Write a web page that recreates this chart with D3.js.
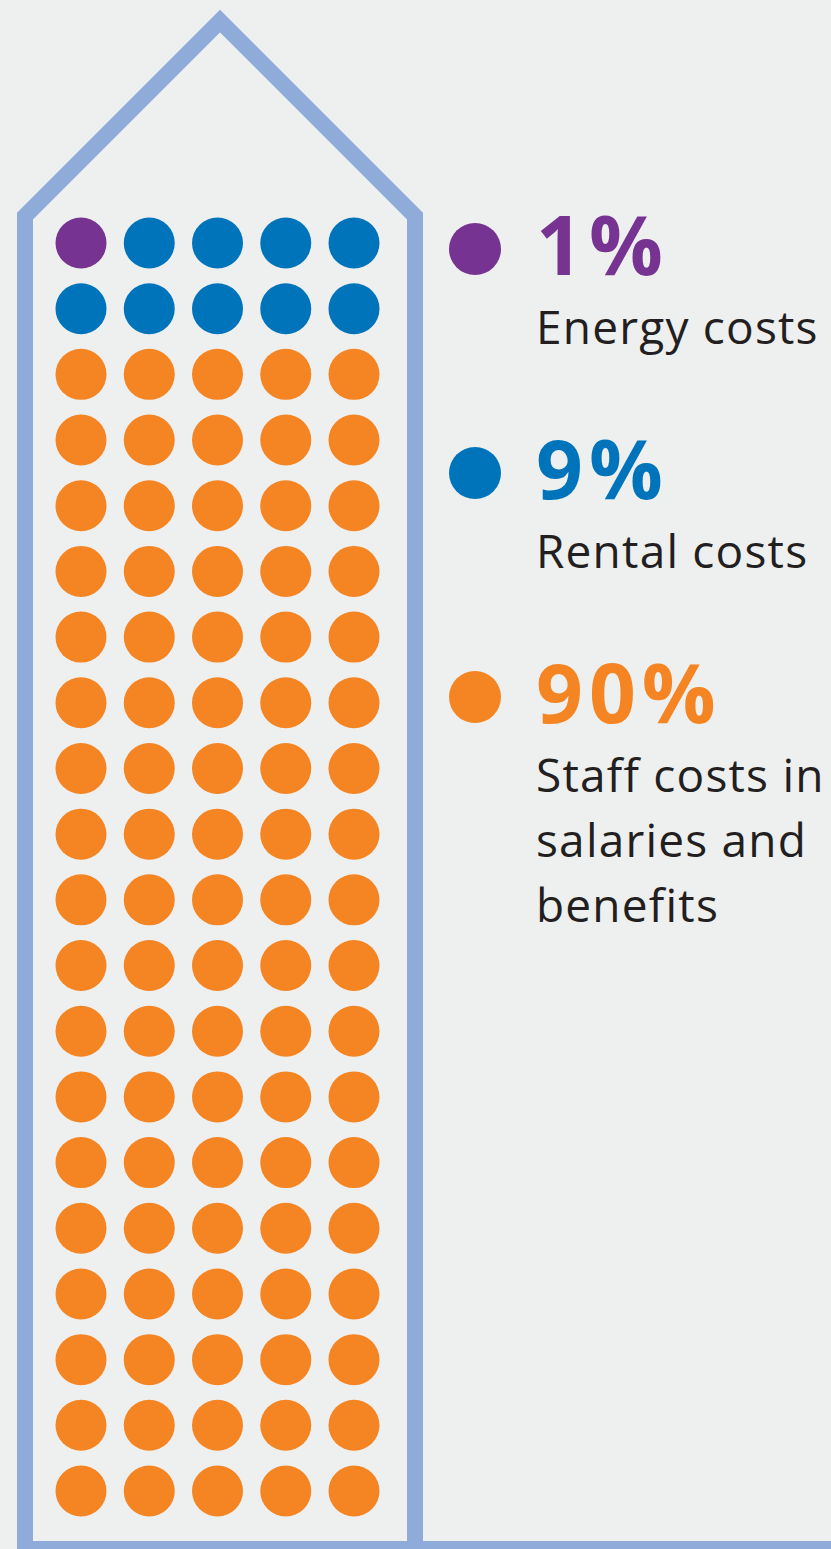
<!DOCTYPE html>
<html>
<head>
<meta charset="utf-8">
<script src="https://cdn.jsdelivr.net/npm/d3@7"></script>
<style>
  html, body { margin: 0; padding: 0; background: #eeefef; }
  svg { display: block; }
</style>
</head>
<body>
<div id="chart"></div>
<script>
// data
const categories = ["Energy costs", "Rental costs", "Staff costs"];
const shares = [1, 9, 90]; // percent, one dot = 1%
const pctLabels = ["1%", "9%", "90%"];
const labelLines = [["Energy costs"], ["Rental costs"], ["Staff costs in", "salaries and", "benefits"]];
const colors = ["#773391", "#0074bb", "#f58422"];

// constants
const width = 831;
const height = 1549;
const cols = 5, rows = 20;

const svg = d3.select("#chart")
  .append("svg")
  .attr("width", width)
  .attr("height", height);

svg.append("rect").attr("width", width).attr("height", height).attr("fill", "#eeefef");

// house outline
const house = [[25, height + 10], [25, 216], [220, 21], [415, 216], [415, height]];
svg.append("path")
  .attr("d", d3.line()(house))
  .attr("fill", "none")
  .attr("stroke", "#8eabd9")
  .attr("stroke-width", 16)
  .attr("stroke-linejoin", "miter");

svg.append("line")
  .attr("x1", 17).attr("x2", width)
  .attr("y1", height).attr("y2", height)
  .attr("stroke", "#8eabd9")
  .attr("stroke-width", 16);

// one cell per percent
const cells = [];
shares.forEach((s, i) => d3.range(s).forEach(() => cells.push(categories[i])));

const color = d3.scaleOrdinal().domain(categories).range(colors);

const xScale = d3.scalePoint().domain(d3.range(cols)).range([81, 354]);
const yScale = d3.scalePoint().domain(d3.range(rows)).range([243, 1491]);

svg.append("g")
  .selectAll("circle")
  .data(cells)
  .enter().append("circle")
  .attr("cx", (d, i) => xScale(i % cols))
  .attr("cy", (d, i) => yScale(Math.floor(i / cols)))
  .attr("r", 25.5)
  .attr("fill", d => color(d));

// legend
const legendY = d3.scalePoint().domain(categories).range([249, 697]);

const legend = svg.append("g")
  .selectAll("g")
  .data(categories)
  .enter().append("g")
  .attr("transform", d => `translate(0,${legendY(d)})`);

legend.append("circle")
  .attr("cx", 475)
  .attr("r", 26)
  .attr("fill", d => color(d));

legend.append("text")
  .attr("x", 536)
  .attr("y", 26)
  .attr("font-family", "'Open Sans', sans-serif")
  .attr("font-weight", 700)
  .attr("font-size", 82)
  .attr("letter-spacing", 6)
  .attr("fill", d => color(d))
  .text((d, i) => pctLabels[i]);

legend.append("text")
  .attr("font-family", "'Open Sans', sans-serif")
  .attr("font-size", 46)
  .attr("letter-spacing", 1.2)
  .attr("fill", "#231f20")
  .selectAll("tspan")
  .data((d, i) => labelLines[i])
  .enter().append("tspan")
  .attr("x", 536)
  .attr("y", (d, j) => 95 + j * 65)
  .text(d => d);
</script>
</body>
</html>
